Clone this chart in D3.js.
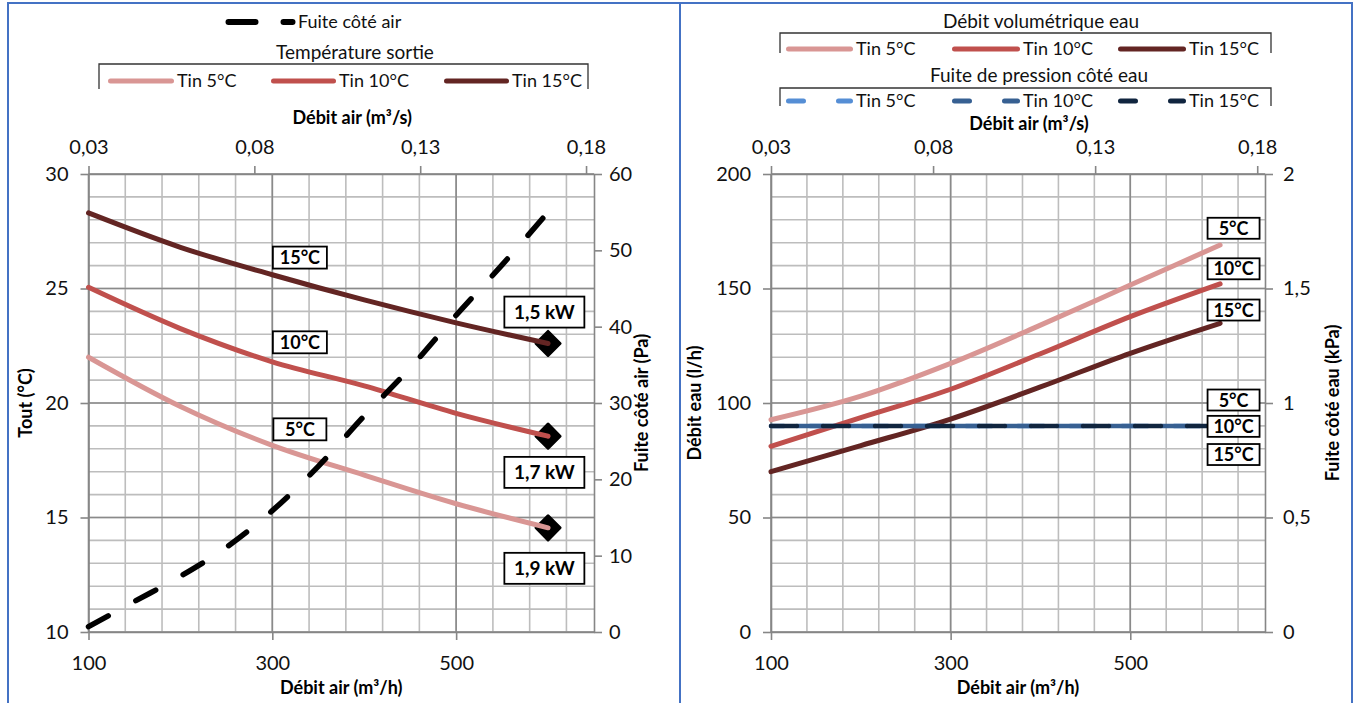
<!DOCTYPE html>
<html><head><meta charset="utf-8">
<script src="https://cdn.jsdelivr.net/npm/d3@7"></script>
<style>
html,body{margin:0;padding:0;background:#fff;}
svg{display:block;font-family:Lato,"Open Sans",sans-serif;}
</style></head>
<body><svg id="c" width="1355" height="703"></svg>
<script>
// ---------- DATA ----------
const airFlow = [100, 200, 300, 400, 500, 600];               // m3/h
const toutTin5  = [22.0, 19.85, 18.15, 16.85, 15.6, 14.55];    // °C
const toutTin10 = [25.05, 23.25, 21.8, 20.75, 19.55, 18.55];
const toutTin15 = [28.3, 26.8, 25.6, 24.5, 23.5, 22.6];
const powerLabels = ["1,9 kW", "1,7 kW", "1,5 kW"];            // Tin 5, 10, 15 at 600 m3/h

const airDropFlow = [100, 150, 200, 250, 300, 350, 400, 450, 500, 550, 600];
const airDropPa   = [0.7, 4.0, 7.3, 11.1, 15.9, 21.7, 28.3, 34.6, 41.5, 48.1, 55.0];

const waterTin5  = [92.7, 103, 117.3, 134, 151.5, 169];        // l/h
const waterTin10 = [81.1, 93.6, 106, 121.5, 137.7, 152];
const waterTin15 = [70, 81.4, 93, 107, 121.7, 134.8];

const waterDropFlow = [100, 600];
const waterDropTin5  = [0.9, 0.9];                              // kPa
const waterDropTin10 = [0.9, 0.9];
const waterDropTin15 = [0.9, 0.9];

const bottomTicks = [100, 300, 500];
const topTicks = [0.03, 0.08, 0.13, 0.18];
const toutTicks = [10, 15, 20, 25, 30];
const paTicks = [0, 10, 20, 30, 40, 50, 60];
const lhTicks = [0, 50, 100, 150, 200];
const kpaTicks = [0, 0.5, 1, 1.5, 2];
const seriesNames = ["Tin 5°C", "Tin 10°C", "Tin 15°C"];
const tempLabels = ["5°C", "10°C", "15°C"];

// ---------- STYLE ----------
const redCols = ["#d99694", "#c0504d", "#632523"];
const blueCols = ["#558ed5", "#376092", "#10253f"];
const axisCol = "#868686", minorCol = "#bdbdbd", majorCol = "#8a8a8a";
const fr = v => String(v).replace(".", ",");

const svg = d3.select("#c");

// frame
svg.append("rect").attr("x", 8).attr("y", 3).attr("width", 672).attr("height", 710)
  .attr("fill", "none").attr("stroke", "#4472c4").attr("stroke-width", 2);
svg.append("rect").attr("x", 680).attr("y", 3).attr("width", 672).attr("height", 710)
  .attr("fill", "none").attr("stroke", "#4472c4").attr("stroke-width", 2);

function panel(o) {
  const g = svg.append("g");
  const x = d3.scaleLinear([100, 650], [o.x0, o.x1]);
  const xt = d3.scaleLinear([0.03, 0.1824], [o.x0, o.x1]);
  const y = d3.scaleLinear(o.yDom, [632, 174]);
  const y2 = d3.scaleLinear(o.y2Dom, [632, 174]);
  // grid
  const grid = g.append("g");
  const minorX = d3.range(140, 650, 40);
  grid.selectAll(".mx").data(minorX).join("line")
    .attr("x1", d => x(d)).attr("x2", d => x(d)).attr("y1", 174).attr("y2", 632)
    .attr("stroke", minorCol).attr("stroke-width", 1.6);
  const minorY = d3.range(o.yDom[0], o.yDom[1] + 0.001, o.yMinor);
  grid.selectAll(".my").data(minorY).join("line")
    .attr("x1", o.x0).attr("x2", o.x1).attr("y1", d => y(d)).attr("y2", d => y(d))
    .attr("stroke", minorCol).attr("stroke-width", 1.6);
  grid.selectAll(".My").data(o.yTicks).join("line")
    .attr("x1", o.x0).attr("x2", o.x1).attr("y1", d => y(d)).attr("y2", d => y(d))
    .attr("stroke", majorCol).attr("stroke-width", 1.6);
  grid.selectAll(".Mx").data(bottomTicks).join("line")
    .attr("x1", d => x(d)).attr("x2", d => x(d)).attr("y1", 174).attr("y2", 632)
    .attr("stroke", majorCol).attr("stroke-width", 1.6);

  const styleAxis = (sel) => {
    sel.selectAll("path,line").attr("stroke", axisCol).attr("stroke-width", 1.6);
    sel.selectAll("text").attr("fill", "#111").attr("font-size", 20).attr("font-family", "Lato");
  };
  g.append("g").attr("transform", "translate(0,632)")
    .call(d3.axisBottom(x).tickValues(bottomTicks).tickSize(8).tickSizeOuter(0).tickPadding(16))
    .call(styleAxis);
  g.append("g").attr("transform", "translate(0,174)")
    .call(d3.axisTop(xt).tickValues(topTicks).tickSize(8).tickSizeOuter(0).tickPadding(12)
      .tickFormat(d => d.toFixed(2).replace(".", ",")))
    .call(styleAxis);
  g.append("g").attr("transform", `translate(${o.x0},0)`)
    .call(d3.axisLeft(y).tickValues(o.yTicks).tickSize(8).tickSizeOuter(0).tickPadding(12).tickFormat(fr))
    .call(styleAxis);
  g.append("g").attr("transform", `translate(${o.x1},0)`)
    .call(d3.axisRight(y2).tickValues(o.y2Ticks).tickSize(8).tickSizeOuter(0).tickPadding(o.y2Pad).tickFormat(fr))
    .call(styleAxis);

  // titles
  const cx = (o.x0 + o.x1) / 2;
  const tfs = 18;
  g.append("text").attr("x", cx).attr("y", 694).attr("text-anchor", "middle")
    .attr("font-weight", "bold").attr("font-size", tfs).text("Débit air (m³/h)");
  g.append("text").attr("x", cx + o.topTitleDx).attr("y", o.topTitleY).attr("text-anchor", "middle")
    .attr("font-weight", "bold").attr("font-size", tfs).text("Débit air (m³/s)");
  g.append("text").attr("transform", `translate(${o.yTitleX},403) rotate(-90)`)
    .attr("text-anchor", "middle").attr("font-weight", "bold").attr("font-size", tfs).text(o.yTitle);
  g.append("text").attr("transform", `translate(${o.y2TitleX},403) rotate(-90)`)
    .attr("text-anchor", "middle").attr("font-weight", "bold").attr("font-size", tfs).text(o.y2Title);
  return {g, x, y, y2};
}

function boxLabel(g, cx, cy, txt, w, h, fs) {
  g.append("rect").attr("x", cx - w / 2).attr("y", cy - h / 2).attr("width", w).attr("height", h)
    .attr("fill", "#fff").attr("stroke", "#000").attr("stroke-width", 1.8);
  g.append("text").attr("x", cx).attr("y", cy).attr("dy", "0.36em").attr("text-anchor", "middle")
    .attr("font-weight", "bold").attr("font-size", fs).text(txt);
}

// ---------- LEFT PANEL ----------
const L = panel({x0: 88.5, x1: 594, yDom: [10, 30], yMinor: 1, yTicks: toutTicks,
  y2Dom: [0, 60], y2Ticks: paTicks, y2Pad: 7, yTitle: "Tout (°C)", y2Title: "Fuite côté air (Pa)",
  yTitleX: 32, y2TitleX: 648, topTitleY: 124, topTitleDx: 11});

const lineL = d3.line().x((d, i) => L.x(airFlow[i])).y(d => L.y(d)).curve(d3.curveMonotoneX);
const toutSeries = [toutTin5, toutTin10, toutTin15];
// markers first
toutSeries.forEach((s, k) => {
  const px = L.x(airFlow[airFlow.length - 1]), py = L.y(s[s.length - 1]);
  L.g.append("rect").attr("x", px - 8.5).attr("y", py - 8.5).attr("width", 17).attr("height", 17)
    .attr("transform", `rotate(45,${px},${py})`).attr("fill", "#000")
    .attr("stroke", "#000").attr("stroke-width", 3).attr("stroke-linejoin", "round");
});
toutSeries.forEach((s, k) => {
  L.g.append("path").attr("d", lineL(s)).attr("fill", "none").attr("stroke", redCols[k])
    .attr("stroke-width", 5).attr("stroke-linecap", "round");
});
const lineLPa = d3.line().x((d, i) => L.x(airDropFlow[i])).y(d => L.y2(d)).curve(d3.curveMonotoneX);
L.g.append("path").attr("d", lineLPa(airDropPa)).attr("fill", "none").attr("stroke", "#000")
  .attr("stroke-width", 5.5).attr("stroke-linecap", "round").attr("stroke-dasharray", "22.5,31.5");

// left labels
boxLabel(L.g, L.x(330), L.y(26.35), tempLabels[2], 54, 22, 18);
boxLabel(L.g, L.x(330), L.y(22.65), tempLabels[1], 54, 22, 18);
boxLabel(L.g, L.x(330), L.y(18.85), tempLabels[0], 53, 22, 18);
boxLabel(L.g, L.x(596), L.y(23.97), powerLabels[2], 80, 31, 19);
boxLabel(L.g, L.x(596), L.y(16.97), powerLabels[1], 80, 31, 19);
boxLabel(L.g, L.x(596), L.y(12.78), powerLabels[0], 80, 31, 19);

// ---------- RIGHT PANEL ----------
const R = panel({x0: 771, x1: 1265, yDom: [0, 200], yMinor: 10, yTicks: lhTicks,
  y2Dom: [0, 2], y2Ticks: kpaTicks, y2Pad: 10, yTitle: "Débit eau (l/h)", y2Title: "Fuite côté eau (kPa)",
  yTitleX: 701, y2TitleX: 1339, topTitleY: 130, topTitleDx: 11});

const lineR = d3.line().x((d, i) => R.x(airFlow[i])).y(d => R.y(d)).curve(d3.curveMonotoneX);
[waterTin5, waterTin10, waterTin15].forEach((s, k) => {
  R.g.append("path").attr("d", lineR(s)).attr("fill", "none").attr("stroke", redCols[k])
    .attr("stroke-width", 5).attr("stroke-linecap", "round");
});
const lineRk = d3.line().x((d, i) => R.x(waterDropFlow[i])).y(d => R.y2(d));
[waterDropTin5, waterDropTin10, waterDropTin15].forEach((s, k) => {
  R.g.append("path").attr("d", lineRk(s)).attr("fill", "none").attr("stroke", blueCols[k])
    .attr("stroke-width", 4.5).attr("stroke-linecap", "round")
    .attr("stroke-dasharray", "26,26").attr("stroke-dashoffset", k === 2 ? 0 : (k === 1 ? 26 : 13));
});
// right labels
boxLabel(R.g, R.x(615), R.y(176.3), tempLabels[0], 52, 21, 18);
boxLabel(R.g, R.x(615), R.y(158.6), tempLabels[1], 52, 21, 18);
boxLabel(R.g, R.x(615), R.y(140.6), tempLabels[2], 52, 21, 18);
boxLabel(R.g, R.x(615), R.y(101.3), tempLabels[0], 52, 21, 18);
boxLabel(R.g, R.x(615), R.y(89.8), tempLabels[1], 52, 21, 18);
boxLabel(R.g, R.x(615), R.y(77.5), tempLabels[2], 52, 21, 18);

// ---------- LEGENDS ----------
const lg = svg.append("g").attr("font-size", 18).attr("fill", "#111");
function bracket(x0, x1, yTop, yBot) {
  lg.append("path").attr("d", `M${x0},${yBot}V${yTop}H${x1}V${yBot}`)
    .attr("fill", "none").attr("stroke", "#333").attr("stroke-width", 1.3);
}
function legendItem(x0, x1, y, col, txt, dashed, w) {
  const p = lg.append("line").attr("x1", x0 + 2.5).attr("x2", x1 - 2.5).attr("y1", y).attr("y2", y)
    .attr("stroke", col).attr("stroke-width", w || 5).attr("stroke-linecap", "round");
  if (dashed) p.attr("stroke-dasharray", dashed);
  lg.append("text").attr("x", x1 + 3).attr("y", y).attr("dy", "0.36em").text(txt);
}
// left
legendItem(226, 295, 22, "#000", "Fuite côté air", "27,28", 6);
lg.append("text").attr("x", 355).attr("y", 52).attr("dy", "0.36em").attr("text-anchor", "middle")
  .attr("font-size", 19).text("Température sortie");
bracket(99, 588, 64, 89);
legendItem(108, 174, 81, redCols[0], seriesNames[0]);
legendItem(271, 336, 81, redCols[1], seriesNames[1]);
legendItem(444, 509, 81, redCols[2], seriesNames[2]);
// right
lg.append("text").attr("x", 1041).attr("y", 21).attr("dy", "0.36em").attr("text-anchor", "middle")
  .attr("font-size", 19).text("Débit volumétrique eau");
bracket(780, 1271, 33, 53);
legendItem(786, 853, 49, redCols[0], seriesNames[0]);
legendItem(952, 1020, 49, redCols[1], seriesNames[1]);
legendItem(1118, 1186, 49, redCols[2], seriesNames[2]);
lg.append("text").attr("x", 1039).attr("y", 75).attr("dy", "0.36em").attr("text-anchor", "middle")
  .attr("font-size", 19).text("Fuite de pression côté eau");
bracket(780, 1271, 88, 106);
legendItem(786, 853, 101, blueCols[0], seriesNames[0], "15,35");
legendItem(952, 1020, 101, blueCols[1], seriesNames[1], "15,35");
legendItem(1118, 1186, 101, blueCols[2], seriesNames[2], "15,35");
</script></body></html>
